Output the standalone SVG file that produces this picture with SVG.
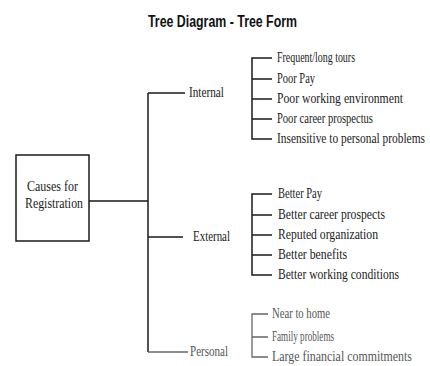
<svg xmlns="http://www.w3.org/2000/svg" width="430" height="366" viewBox="0 0 430 366">
<style>
.t{font-family:"Liberation Serif","Times New Roman",serif;font-size:14.5px;fill:#1a1a1a}
.f{font-family:"Liberation Serif","Times New Roman",serif;font-size:14.5px;fill:#555}
.title{font-family:"Liberation Sans",Arial,sans-serif;font-size:16px;font-weight:bold;fill:#111}
.ln{fill:none;stroke:#1a1a1a;stroke-width:1.5}
.lf{fill:none;stroke:#666;stroke-width:1.3}
.box{fill:#fff;stroke:#1a1a1a;stroke-width:1.5}
</style>
<rect width="430" height="366" fill="#fff"/>
<text id="title" class="title" x="148" y="27" textLength="149" lengthAdjust="spacingAndGlyphs">Tree Diagram - Tree Form</text>
<g id="connectors">
<path class="ln" d="M89 201H148M148 93V352M148 93H185M148 237H183"/>
<path class="lf" d="M148 352H188"/>
<path class="ln" d="M272 58H252V139H272M252 79H272M252 99H272M252 119H272"/>
<path class="ln" d="M272 194H252V275H272M252 215H272M252 235H272M252 255H272"/>
<path class="lf" d="M268 314H252V357H268M252 337H268"/>
</g>
<g id="root"><rect class="box" x="16" y="155" width="73" height="86"/>
<text class="t" x="27" y="191" textLength="51" lengthAdjust="spacingAndGlyphs">Causes for</text>
<text class="t" x="25" y="208" textLength="58" lengthAdjust="spacingAndGlyphs">Registration</text></g>
<g id="internal"><text class="t" x="189" y="97" textLength="35" lengthAdjust="spacingAndGlyphs">Internal</text></g>
<g id="external"><text class="t" x="193" y="241" textLength="37" lengthAdjust="spacingAndGlyphs">External</text></g>
<g id="personal"><text class="f" x="190" y="356" textLength="38" lengthAdjust="spacingAndGlyphs">Personal</text></g>
<g id="i1"><text class="t" transform="translate(277 62) scale(0.78 1)" textLength="100" lengthAdjust="spacingAndGlyphs">Frequent/long tours</text></g>
<g id="i2"><text class="t" transform="translate(277 83) scale(0.78 1)" textLength="48.7" lengthAdjust="spacingAndGlyphs">Poor Pay</text></g>
<g id="i3"><text class="t" transform="translate(277 103) scale(0.78 1)" textLength="161.5" lengthAdjust="spacingAndGlyphs">Poor working environment</text></g>
<g id="i4"><text class="t" transform="translate(277 123) scale(0.78 1)" textLength="123" lengthAdjust="spacingAndGlyphs">Poor career prospectus</text></g>
<g id="i5"><text class="t" transform="translate(277 143) scale(0.78 1)" textLength="189.7" lengthAdjust="spacingAndGlyphs">Insensitive to personal problems</text></g>
<g id="e1"><text class="t" transform="translate(278 198) scale(0.78 1)" textLength="56.4" lengthAdjust="spacingAndGlyphs">Better Pay</text></g>
<g id="e2"><text class="t" transform="translate(278 219) scale(0.78 1)" textLength="137.2" lengthAdjust="spacingAndGlyphs">Better career prospects</text></g>
<g id="e3"><text class="t" transform="translate(278 239) scale(0.78 1)" textLength="128.2" lengthAdjust="spacingAndGlyphs">Reputed organization</text></g>
<g id="e4"><text class="t" transform="translate(278 259) scale(0.78 1)" textLength="88.5" lengthAdjust="spacingAndGlyphs">Better benefits</text></g>
<g id="e5"><text class="t" transform="translate(278 279) scale(0.78 1)" textLength="155.1" lengthAdjust="spacingAndGlyphs">Better working conditions</text></g>
<g id="p1"><text class="f" transform="translate(272 318) scale(0.78 1)" textLength="74.4" lengthAdjust="spacingAndGlyphs">Near to home</text></g>
<g id="p2"><text class="f" transform="translate(272 341) scale(0.78 1)" textLength="79.5" lengthAdjust="spacingAndGlyphs">Family problems</text></g>
<g id="p3"><text class="f" transform="translate(272 361) scale(0.78 1)" textLength="179.5" lengthAdjust="spacingAndGlyphs">Large financial commitments</text></g>
</svg>
